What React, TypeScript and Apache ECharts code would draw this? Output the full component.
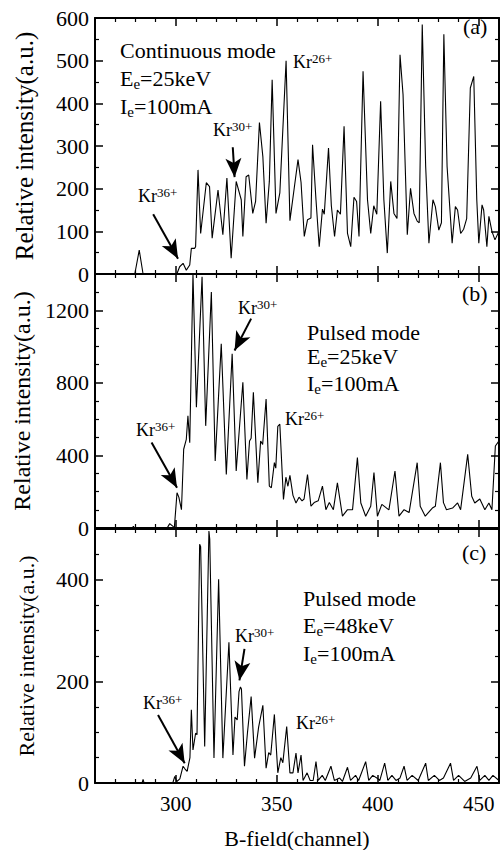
import { useEffect, useRef } from 'react';
import * as echarts from 'echarts';

const FONT = 'Liberation Serif';

// x range (B-field channel)
const X_MIN = 260;
const X_MAX = 460;

// Panel (a): continuous mode, Ee = 25 keV
const dataA: number[][] = [
  [272, 0], [279.7, 0], [281.9, 56], [283.8, 0], [300.5, 0], [301.9, 17], [303.6, 25], [305.2, 9], [306.9, 21],
  [307.7, 60], [309.3, 60], [309.8, 64], [311, 244], [312.3, 95], [315.1, 214], [316.7, 205], [318, 84],
  [320.9, 197], [323.3, 92], [325.3, 225], [327.4, 37], [329.9, 217], [332.4, 174], [333.2, 88], [334.8, 228],
  [336.1, 232], [338.1, 142], [339.5, 170], [341.4, 355], [343.1, 275], [344.7, 119], [346.3, 217], [347.7, 455],
  [349.6, 142], [351.5, 190], [354.6, 500], [356.5, 125], [358.7, 204], [360.5, 268], [362, 215], [363.6, 88],
  [365.2, 127], [366.9, 131], [367.7, 303], [369.4, 174], [371, 64], [372.6, 152], [373.5, 140], [375.6, 295],
  [377, 160], [378.6, 88], [380, 150], [381.5, 140], [383.3, 346], [385, 95], [386.6, 64], [388.2, 180],
  [389.5, 170], [390.7, 88], [392.7, 475], [394.9, 174], [396.5, 95], [398, 160], [399.5, 140], [401.4, 405],
  [403, 174], [404.7, 49], [406.4, 217], [408, 142], [409.5, 130], [411, 514], [412.5, 420], [414.6, 92],
  [416.2, 201], [417.9, 142], [419.5, 124], [420.5, 120], [422, 585], [423.7, 252], [425.3, 72], [427.3, 174],
  [428.5, 158], [430.2, 103], [431.5, 120], [432.7, 562], [434.3, 252], [436.8, 72], [438.4, 158], [439.5, 150],
  [441, 95], [442.5, 105], [444, 130], [445.8, 436], [447.5, 463], [449, 174], [450, 72], [451.6, 162],
  [452.4, 150], [454, 64], [455, 135], [456.5, 100], [458, 80], [460, 100],
];

// Panel (b): pulsed mode, Ee = 25 keV
const dataB: number[][] = [
  [270, 0], [278.5, 0], [279, 10], [279.5, 0], [295.5, 0], [296.2, 9], [297, 24], [298.6, 9], [299.3, 5],
  [300.6, 194], [301.5, 170], [302.8, 101], [303.9, 434], [305.2, 489], [306, 618], [306.9, 470], [308.5, 1400],
  [310.2, 665], [313, 1385], [314.8, 563], [317.6, 1301], [319.5, 369], [322.5, 1015], [325, 295], [327.9, 960],
  [329.9, 314], [333.2, 803], [335.2, 268], [336.5, 480], [337.3, 495], [338.4, 748], [340.6, 249], [342, 480],
  [343, 460], [344.7, 711], [346.3, 231], [347.3, 222], [348.8, 360], [349.5, 330], [350.5, 560], [351.5, 572],
  [353.3, 157], [354.5, 280], [355.5, 230], [356.5, 290], [358, 180], [359.5, 138], [361, 170], [362.5, 150],
  [363.5, 160], [365.2, 295], [366.9, 120], [368.5, 140], [370.5, 150], [372.6, 231], [374.3, 101], [376, 140],
  [378, 101], [380, 249], [382.5, 65], [385, 101], [387.5, 101], [389.9, 388], [391.6, 138], [394, 65],
  [396.5, 120], [398.1, 305], [399.8, 65], [402, 130], [405.5, 100], [408.5, 314], [410.5, 65], [413, 101],
  [415.5, 85], [419.5, 360], [421, 120], [423.5, 65], [427, 110], [428.5, 120], [431, 360], [432.5, 140],
  [434, 101], [437, 110], [439.5, 138], [441, 101], [444.5, 406], [446.5, 175], [448, 138], [450.5, 160],
  [453, 101], [455, 138], [456.5, 101], [458.2, 452], [460, 480],
];

// Panel (c): pulsed mode, Ee = 48 keV
const dataC: number[][] = [
  [280, 0], [283.3, 0], [283.8, 7], [284.3, 0], [298.5, 0], [299.5, 13], [300.5, 3], [302, 8], [303.6, 33],
  [304.5, 28], [305.6, 23], [307, 50], [307.7, 144], [308.5, 65], [309.8, 98], [310.5, 95], [311.8, 470],
  [312.3, 465], [314.3, 72], [316.4, 496], [316.8, 480], [318.9, 49], [321.2, 401], [323.3, 49], [326.3, 277],
  [328.3, 55], [329.3, 130], [330.4, 124], [331.3, 180], [332, 189], [332.5, 185], [334, 33], [335.5, 100],
  [337.3, 170], [339, 49], [341, 110], [343.1, 153], [344.7, 29], [346, 60], [347, 55], [348.8, 135],
  [350.5, 20], [352, 50], [353, 40], [354.9, 111], [356.5, 20], [358, 20], [359.5, 59], [360.5, 20], [362, 55],
  [363, 5], [365, 20], [366.5, 5], [368, 5], [369.4, 42], [370.5, 5], [372.5, 15], [374, 5], [376.8, 33],
  [378.5, 5], [381, 10], [382.5, 3], [385, 31], [386.5, 5], [389, 15], [390.5, 5], [394, 42], [395.5, 5],
  [397.5, 15], [399.5, 10], [401, 5], [403.4, 39], [405, 5], [407, 15], [409, 5], [411, 10], [413, 33],
  [414.5, 5], [417, 15], [420, 5], [423.7, 39], [425, 5], [428, 15], [430.5, 5], [432.5, 10], [436, 39],
  [437.5, 5], [440, 15], [443, 3], [446, 10], [449.1, 33], [450.5, 5], [453, 15], [455, 5], [457, 15], [460, 5],
];

// Arrows [from, to] in data coordinates
const arrowsA = [
  [[288.8, 140], [301.1, 36]],
  [[328.2, 297], [329.1, 227]],
];
const arrowsB = [
  [[288, 471], [300.6, 222]],
  [[337.3, 1154], [329.1, 978]],
];
const arrowsC = [
  [[291.2, 134], [304.4, 39]],
  [[334, 264], [331.5, 202]],
];

const yMaxes = [600, 1400, 500];
const yIntervals = [100, 400, 200];
const yMinorSplits = [2, 4, 4];
const yNameSize = [25, 24, 22];

const RICH = {
  m: { fontSize: 18, fontFamily: FONT, lineHeight: 22, fill: '#000' },
  s: { fontSize: 13, fontFamily: FONT, lineHeight: 13, padding: [0, 0, 8, 0], fill: '#000' },
  E: { fontSize: 22, fontFamily: FONT, lineHeight: 24, verticalAlign: 'top', fill: '#000' },
  e: { fontSize: 15, fontFamily: FONT, lineHeight: 4, verticalAlign: 'bottom', fill: '#000' },
};

const txt = (x: number, y: number, text: string) => ({
  type: 'text',
  x,
  y,
  silent: true,
  z: 100,
  style: {
    text,
    fill: '#000',
    fontSize: 22,
    fontFamily: FONT,
    align: 'left',
    verticalAlign: 'middle',
    rich: RICH,
  },
});

const kr = (c: string) => `{m|Kr}{s|${c}}`;

export default function App() {
  const ref = useRef<HTMLDivElement>(null);
  useEffect(() => {
    if (!ref.current) return;
    document.body.style.margin = '0';
    const chart = echarts.init(ref.current, null, { renderer: 'svg', width: 500, height: 850 });

    const grids = [
      { left: 95, top: 18, width: 404, height: 256 },
      { left: 95, top: 274, width: 404, height: 254 },
      { left: 95, top: 529, width: 404, height: 256 },
    ];

    const xAxes: any[] = [];
    const yAxes: any[] = [];
    for (let i = 0; i < 3; i++) {
      for (const pos of ['bottom', 'top']) {
        const showLabel = i === 2 && pos === 'bottom';
        xAxes.push({
          type: 'value',
          gridIndex: i,
          position: pos,
          min: X_MIN,
          max: X_MAX,
          splitNumber: 4,
          name: showLabel ? 'B-field(channel)' : '',
          nameLocation: 'middle',
          nameGap: 44,
          nameTextStyle: { fontFamily: FONT, fontSize: 22, color: '#000' },
          axisLine: { show: true, onZero: false, lineStyle: { color: '#000', width: 2 } },
          axisTick: { show: true, inside: true, length: 8, lineStyle: { color: '#000', width: 1.5 } },
          minorTick: { show: true, splitNumber: 5, length: 4, lineStyle: { color: '#000', width: 1.2 } },
          axisLabel: {
            show: showLabel,
            showMinLabel: false,
            showMaxLabel: false,
            color: '#000',
            fontFamily: FONT,
            fontSize: 21,
            margin: 10,
            formatter: (v: number) => String(v),
          },
          splitLine: { show: false },
          minorSplitLine: { show: false },
        });
      }
      for (const pos of ['left', 'right']) {
        const left = pos === 'left';
        yAxes.push({
          type: 'value',
          gridIndex: i,
          position: pos,
          min: 0,
          max: yMaxes[i],
          interval: yIntervals[i],
          name: left ? 'Relative intensity(a.u.)' : '',
          nameLocation: 'middle',
          nameGap: 58,
          nameTextStyle: { fontFamily: FONT, fontSize: yNameSize[i], color: '#000' },
          axisLine: { show: true, onZero: false, lineStyle: { color: '#000', width: 2 } },
          axisTick: { show: true, inside: true, length: 8, lineStyle: { color: '#000', width: 1.5 } },
          minorTick: { show: true, splitNumber: yMinorSplits[i], length: 4, lineStyle: { color: '#000', width: 1.2 } },
          axisLabel: {
            show: left,
            showMaxLabel: i === 0,
            color: '#000',
            fontFamily: FONT,
            fontSize: 22,
            margin: 6,
            formatter: (v: number) => String(v),
          },
          splitLine: { show: false },
          minorSplitLine: { show: false },
        });
      }
    }

    const datas = [dataA, dataB, dataC];
    const arrows = [arrowsA, arrowsB, arrowsC];
    const series = datas.map((d, i) => ({
      type: 'line',
      xAxisIndex: i * 2,
      yAxisIndex: i * 2,
      data: d,
      showSymbol: false,
      symbol: 'none',
      clip: true,
      lineStyle: { color: '#000', width: 1.1 },
      markLine: {
        silent: true,
        animation: false,
        symbol: ['none', 'arrow'],
        symbolSize: [12, 19],
        lineStyle: { color: '#000', width: 2, type: 'solid' },
        label: { show: false },
        data: arrows[i].map((a) => [{ coord: a[0] }, { coord: a[1] }]),
      },
    }));

    const graphic = [
      txt(120, 50, 'Continuous mode'),
      txt(120, 79, '{E|E}{e|e}{E|=25keV}'),
      txt(120, 107, '{E|I}{e|e}{E|=100mA}'),
      txt(293, 62, kr('26+')),
      txt(213, 130, kr('30+')),
      txt(138, 196, kr('36+')),
      txt(463, 26, '(a)'),

      txt(307, 332, 'Pulsed mode'),
      txt(307, 357, '{E|E}{e|e}{E|=25keV}'),
      txt(307, 384, '{E|I}{e|e}{E|=100mA}'),
      txt(238, 308, kr('30+')),
      txt(285, 419, kr('26+')),
      txt(136, 430, kr('36+')),
      txt(462, 293, '(b)'),

      txt(303, 598, 'Pulsed mode'),
      txt(303, 626, '{E|E}{e|e}{E|=48keV}'),
      txt(303, 654, '{E|I}{e|e}{E|=100mA}'),
      txt(235, 636, kr('30+')),
      txt(296, 723, kr('26+')),
      txt(143, 703, kr('36+')),
      txt(462, 552, '(c)'),
    ];

    chart.setOption({
      animation: false,
      backgroundColor: '#fff',
      textStyle: { fontFamily: FONT, color: '#000' },
      grid: grids,
      xAxis: xAxes,
      yAxis: yAxes,
      series,
      graphic,
    });
    return () => chart.dispose();
  }, []);
  return <div ref={ref} style={{ position: 'absolute', left: 0, top: 0, width: 500, height: 850 }} />;
}
